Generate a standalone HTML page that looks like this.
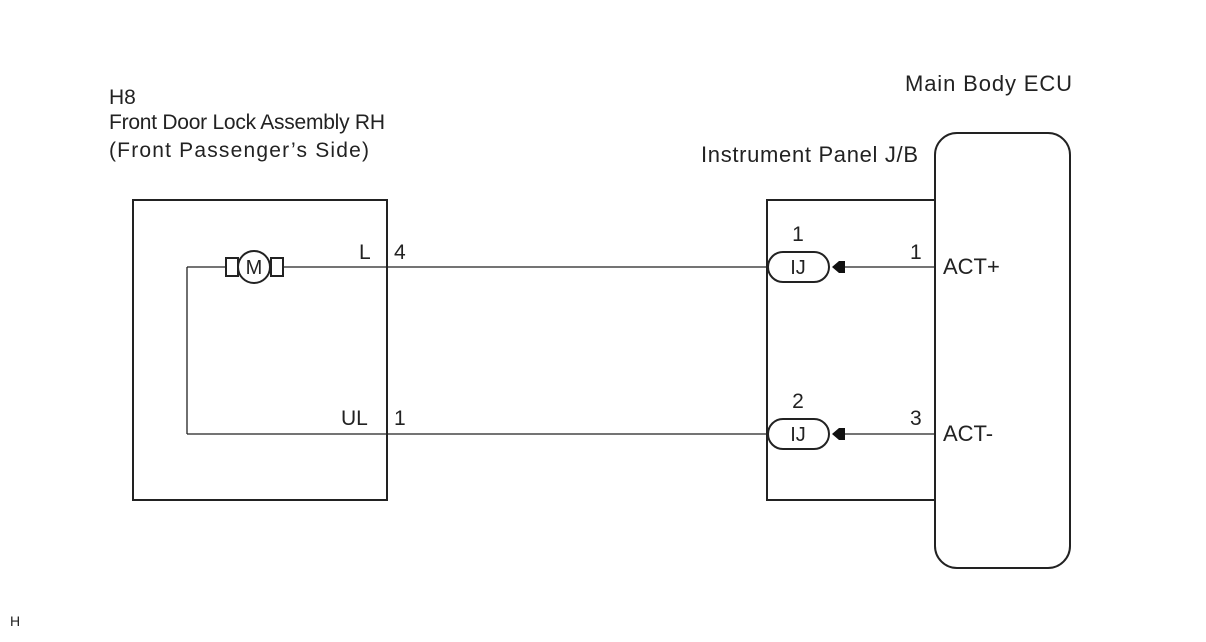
<!DOCTYPE html>
<html><head><meta charset="utf-8"><style>
html,body{margin:0;padding:0;background:#fff;}
svg{display:block;}
text{font-family:"Liberation Sans",Arial,sans-serif;fill:#222;}
</style></head><body>
<svg width="1206" height="642" viewBox="0 0 1206 642" xmlns="http://www.w3.org/2000/svg">
<g fill="none" stroke="#222">
<rect x="133" y="200" width="254" height="300" stroke-width="2"/>
<rect x="767" y="200" width="168" height="300" stroke-width="2"/>
<rect x="935" y="133" width="135" height="435" rx="22" fill="#fff" stroke-width="2"/>
<line x1="283" y1="267" x2="767" y2="267" stroke-width="1.3"/>
<line x1="187" y1="267" x2="226" y2="267" stroke-width="1.3"/>
<line x1="187" y1="267" x2="187" y2="434" stroke-width="1.3"/>
<line x1="187" y1="434" x2="767" y2="434" stroke-width="1.3"/>
<line x1="845" y1="267" x2="935" y2="267" stroke-width="1.3"/>
<line x1="845" y1="434" x2="935" y2="434" stroke-width="1.3"/>
<rect x="226" y="258" width="12" height="18" stroke-width="2"/>
<rect x="271" y="258" width="12" height="18" stroke-width="2"/>
<circle cx="254" cy="267" r="16" fill="#fff" stroke-width="2"/>
<rect x="768" y="252" width="61" height="30" rx="15" fill="#fff" stroke-width="2"/>
<rect x="768" y="419" width="61" height="30" rx="15" fill="#fff" stroke-width="2"/>
</g>
<g fill="#111">
<path d="M832 267 L839 261 L845 261 L845 273 L839 273 Z"/>
<path d="M832 434 L839 428 L845 428 L845 440 L839 440 Z"/>
</g>
<text x="254" y="274" font-size="20" text-anchor="middle">M</text>
<text x="798" y="274" font-size="20" text-anchor="middle">IJ</text>
<text x="798" y="441" font-size="20" text-anchor="middle">IJ</text>
<g font-size="21">
<text x="109" y="104">H8</text>
<text x="109" y="129" textLength="276">Front Door Lock Assembly RH</text>
<text x="109" y="157" textLength="260">(Front Passenger’s Side)</text>
<text x="359" y="259">L</text>
<text x="394" y="259">4</text>
<text x="341" y="425">UL</text>
<text x="394" y="425">1</text>
<text x="798" y="241" text-anchor="middle">1</text>
<text x="798" y="408" text-anchor="middle">2</text>
<text x="910" y="259">1</text>
<text x="910" y="425">3</text>
</g>
<g font-size="22">
<text x="905" y="91" textLength="167">Main Body ECU</text>
<text x="701" y="162" textLength="217">Instrument Panel J/B</text>
<text x="943" y="274">ACT+</text>
<text x="943" y="441">ACT-</text>
</g>
<text x="10" y="626" font-size="14">H</text>
</svg>
</body></html>
